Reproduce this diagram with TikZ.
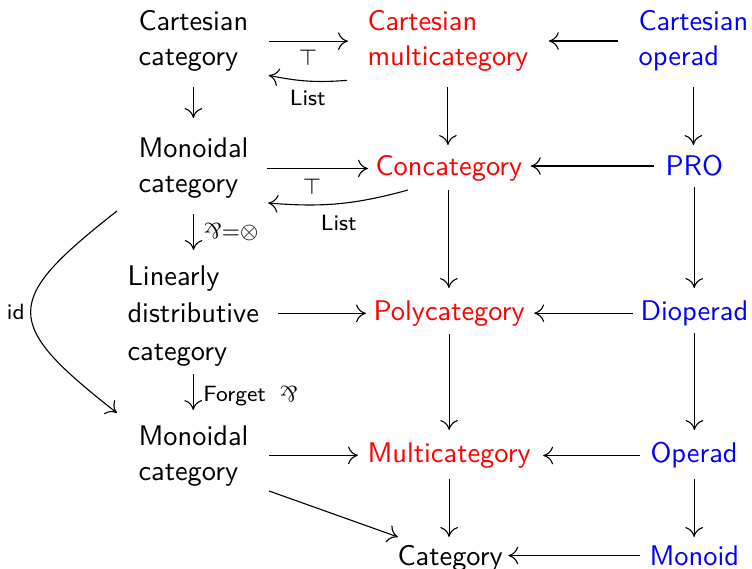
\documentclass[tikz,border=0pt]{standalone}
\usepackage{graphicx}
\usetikzlibrary{arrows.meta}
\renewcommand{\familydefault}{\sfdefault}
\newdimen\px \px=0.3623pt
\newcommand{\parrsym}{\mathbin{\rotatebox[origin=c]{180}{\textrm{\&}}}}
\begin{document}
\begin{tikzpicture}[x=0.3623pt, y=-0.3623pt,
  every node/.style={inner sep=0pt, font=\fontsize{10.3}{12.8}\selectfont},
  obj/.style={align=left, anchor=north west},
  arr/.style={-{Computer Modern Rightarrow[length=3.6pt,width=6.4pt]}, line width=0.4pt},
  lbl/.style={font=\footnotesize, inner sep=2pt}
]
\useasboundingbox (0,0) rectangle (752,569);

\node[obj] (A1) at (138,10) {Cartesian\\category};
\node[obj,text=red] (B1) at (367,10) {Cartesian\\multicategory};
\node[obj,text=blue] (C1) at (638,10) {Cartesian\\operad};
\node[obj] (A2) at (138,137) {Monoidal\\category};
\node[obj,text=red] (B2) at (375,155) {Concategory};
\node[obj,text=blue] (C2) at (665,155) {PRO};
\node[obj, font=\fontsize{10.3}{13.6}\selectfont] (A3) at (127,265) {Linearly\\distributive\\category};
\node[obj,text=red] (B3) at (373,300) {Polycategory};
\node[obj,text=blue] (C3) at (640,300) {Dioperad};
\node[obj] (A4) at (138,425) {Monoidal\\category};
\node[obj,text=red] (B4) at (367,442) {Multicategory};
\node[obj,text=blue] (C4) at (650,442) {Operad};
\node[obj] (B5) at (397,545) {Category};
\node[obj,text=blue] (C5) at (649,545) {Monoid};

% row 1
\draw[arr, shorten <=20\px, shorten >=19\px] (A1.east |- B1.west) -- (B1.west)
  node[lbl, midway, below=1pt] {$\top$};
\draw[arr, shorten <=20\px, shorten >=20\px] (C1.west) -- (B1.east |- C1.west);
\draw[arr] ([shift={(-20,8)}]B1.south west) to[bend left=8]
  node[lbl, midway, below=1pt] {List} ([shift={(20,3)}]A1.south east);
% row 1 -> row 2
\draw[arr, shorten <=15\px, shorten >=19\px] (A1.south) -- (A1.south |- A2.north);
\draw[arr, shorten <=15\px, shorten >=10\px] (B1.south) -- (B1.south |- B2.north);
\draw[arr, shorten <=15\px, shorten >=10\px] (C1.south) -- (C1.south |- C2.north);
% row 2
\draw[arr, shorten <=18\px, shorten >=7\px] (A2.east |- B2.west) -- (B2.west)
  node[lbl, midway, below=1.5pt] {$\top$};
\draw[arr] ([shift={(33,8)}]B2.south west) to[bend left=10]
  node[lbl, midway, below=2pt] {List} ([shift={(19,4)}]A2.south east);
\draw[arr, shorten <=11\px, shorten >=8\px] (C2.west) -- (B2.east |- C2.west);
% row 2 -> row 3
\draw[arr, shorten <=15\px, shorten >=15\px] (A2.south) -- (A2.south |- A3.north)
  node[lbl, midway, right=1.5pt] {$\parrsym{=}\otimes$};
\draw[arr, shorten <=8\px, shorten >=12\px] (B2.south) -- (B2.south |- B3.north);
\draw[arr, shorten <=10\px, shorten >=12\px] (C2.south) -- (C2.south |- C3.north);
% row 3
\draw[arr, shorten <=19\px, shorten >=7\px] (A3.east |- B3.west) -- (B3.west);
\draw[arr, shorten <=7\px, shorten >=9\px] (C3.west) -- (B3.east |- C3.west);
% row 3 -> row 4
\draw[arr, shorten <=7\px, shorten >=15\px] (A3.south) -- (A3.south |- A4.north)
  node[lbl, midway, right=1.5pt] {Forget\hspace{5pt}$\parrsym$};
\draw[arr, shorten <=7\px, shorten >=12\px] (B3.south) -- (B3.south |- B4.north);
\draw[arr, shorten <=7\px, shorten >=12\px] (C3.south) -- (C3.south |- C4.north);
% id
\draw[arr] ([shift={(-21,12)}]A2.south west) .. controls +(-115,90) and +(-115,-90) ..
  node[lbl, left] {id} ([shift={(-21,-12)}]A4.north west);
% row 4
\draw[arr, shorten <=20\px, shorten >=9\px] (A4.east |- B4.west) -- (B4.west);
\draw[arr, shorten <=10\px, shorten >=12\px] (C4.west) -- (B4.east |- C4.west);
\draw[arr] ([shift={(20,4)}]A4.south east) -- ([shift={(1,-8)}]B5.north west);
% row 4 -> row 5
\draw[arr, shorten <=10\px, shorten >=8\px] (B4.south) -- (B4.south |- B5.north);
\draw[arr, shorten <=10\px, shorten >=8\px] (C4.south) -- (C4.south |- C5.north);
% row 5
\draw[arr, shorten <=9\px, shorten >=5\px] (C5.west) -- (B5.east |- C5.west);
\end{tikzpicture}
\end{document}
